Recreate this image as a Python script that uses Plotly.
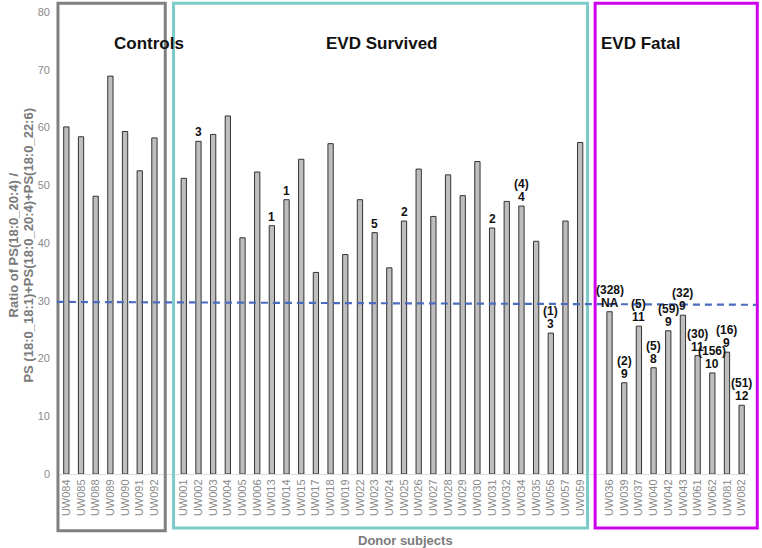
import plotly.graph_objects as go

# ---- data ----
controls_ids = ["UW084", "UW085", "UW088", "UW089", "UW090", "UW091", "UW092"]
controls_vals = [60.1, 58.4, 48.1, 68.9, 59.3, 52.5, 58.2]

survived_ids = ["UW001", "UW002", "UW003", "UW004", "UW005", "UW006", "UW013", "UW014",
                "UW015", "UW017", "UW018", "UW019", "UW022", "UW023", "UW024", "UW025",
                "UW026", "UW027", "UW028", "UW029", "UW030", "UW031", "UW032", "UW034",
                "UW035", "UW056", "UW057", "UW059"]
survived_vals = [51.2, 57.6, 58.8, 62.0, 40.9, 52.3, 43.0, 47.5,
                 54.5, 34.9, 57.2, 38.0, 47.5, 41.8, 35.7, 43.8,
                 52.8, 44.6, 51.8, 48.2, 54.1, 42.6, 47.2, 46.4,
                 40.3, 24.4, 43.8, 57.4]
survived_labels = ["", "3", "", "", "", "", "1", "1",
                   "", "", "", "", "", "5", "", "2",
                   "", "", "", "", "", "2", "", "(4)<br>4",
                   "", "(1)<br>3", "", ""]

fatal_ids = ["UW036", "UW039", "UW037", "UW040", "UW042", "UW043", "UW061", "UW062",
             "UW081", "UW082"]
fatal_vals = [28.1, 15.8, 25.6, 18.4, 24.8, 27.5, 20.5, 17.5, 21.1, 11.9]
fatal_labels = ["(328)<br>NA", "(2)<br>9", "(5)<br>11", "(5)<br>8", "(59)<br>9",
                "(32)<br>9", "(30)<br>11", "(156)<br>10", "(16)<br>9", "(51)<br>12"]

threshold = 29.5
group_titles = ["Controls", "EVD Survived", "EVD Fatal"]
x_title = "Donor subjects"
y_title_lines = ["Ratio of PS(18:0_20:4) /", "PS (18:0_18:1)+PS(18:0_20:4)+PS(18:0_22:6)"]

# category order with blank spacer slots between groups
category_order = controls_ids + [" "] + survived_ids + ["  "] + fatal_ids

FONT = "Liberation Sans, Arial, sans-serif"
bar_style = dict(marker=dict(color="#BEBEBE", line=dict(color="#333333", width=1)),
                 width=0.36, showlegend=False, hoverinfo="x+y")

fig = go.Figure()
for ids, vals in [(controls_ids, controls_vals), (survived_ids, survived_vals),
                  (fatal_ids, fatal_vals)]:
    fig.add_trace(go.Bar(x=ids, y=vals, **bar_style))

annotations = []
LINE_STEP = 13
for ids, vals, labs in [(survived_ids, survived_vals, survived_labels),
                        (fatal_ids, fatal_vals, fatal_labels)]:
    for i, v, t in zip(ids, vals, labs):
        if not t:
            continue
        lines = t.split("<br>")
        for k, line in enumerate(reversed(lines)):
            annotations.append(dict(x=i, y=v, xref="x", yref="y", text="<b>%s</b>" % line,
                                    showarrow=False, yanchor="middle",
                                    yshift=9 + k * LINE_STEP, borderpad=0,
                                    font=dict(family=FONT, size=12, color="#111111")))

# group titles
for title, px in zip(group_titles, [0.077, 0.468, 0.903]):
    annotations.append(dict(x=px, y=0.957, xref="paper", yref="paper",
                            text="<b>%s</b>" % title, showarrow=False,
                            font=dict(family=FONT, size=17, color="#111111")))

# axis titles
annotations.append(dict(x=0.502, y=-0.143, xref="paper", yref="paper", yanchor="middle",
                        text="<b>%s</b>" % x_title, showarrow=False,
                        font=dict(family=FONT, size=13, color="#7A7A7A")))
for line, px in zip(y_title_lines, [-0.0665, -0.0445]):
    annotations.append(dict(x=px, y=0.495, xref="paper", yref="paper", xanchor="center",
                            yanchor="middle", text="<b>%s</b>" % line, showarrow=False,
                            textangle=-90,
                            font=dict(family=FONT, size=13, color="#7A7A7A")))

shapes = [
    dict(type="rect", xref="paper", yref="paper", x0=-0.0015, x1=0.154, y0=-0.123, y1=1.019,
         line=dict(color="#808080", width=3)),
    dict(type="rect", xref="paper", yref="paper", x0=0.166, x1=0.766, y0=-0.117, y1=1.019,
         line=dict(color="#7CCBC8", width=3)),
    dict(type="rect", xref="paper", yref="paper", x0=0.777, x1=1.012, y0=-0.117, y1=1.019,
         line=dict(color="#CC00EE", width=3)),
    dict(type="line", xref="paper", yref="y", x0=-0.003, x1=1.01, y0=threshold + 0.3,
         y1=threshold - 0.2, line=dict(color="#4A6CBF", width=2.2, dash="7px,5px")),
]

fig.update_layout(
    width=762, height=548,
    margin=dict(l=59, r=13, t=12, b=74, autoexpand=False),
    plot_bgcolor="white", paper_bgcolor="white",
    font=dict(family=FONT, color="#888888"),
    annotations=annotations,
    shapes=shapes,
    xaxis=dict(type="category", categoryorder="array", categoryarray=category_order,
               range=[-0.5, len(category_order) - 0.5], automargin=False,
               tickangle=-90, tickfont=dict(size=11, color="#8A8A8A"),
               showgrid=False, showline=True, linecolor="#DDDDDD", linewidth=1,
               ticks="", zeroline=False),
    yaxis=dict(range=[0, 80], tickvals=list(range(0, 81, 10)), automargin=False,
               tickfont=dict(size=11, color="#8A8A8A"), showgrid=False,
               zeroline=False, showline=False, ticks="", ticklabelstandoff=8,
               ticklabeloverflow="allow"),
)

# remove the default page margin so the figure sits at the window's top-left corner
fig.write_html("out.html", config={"displayModeBar": False},
               post_script="document.body.style.margin='0';")
